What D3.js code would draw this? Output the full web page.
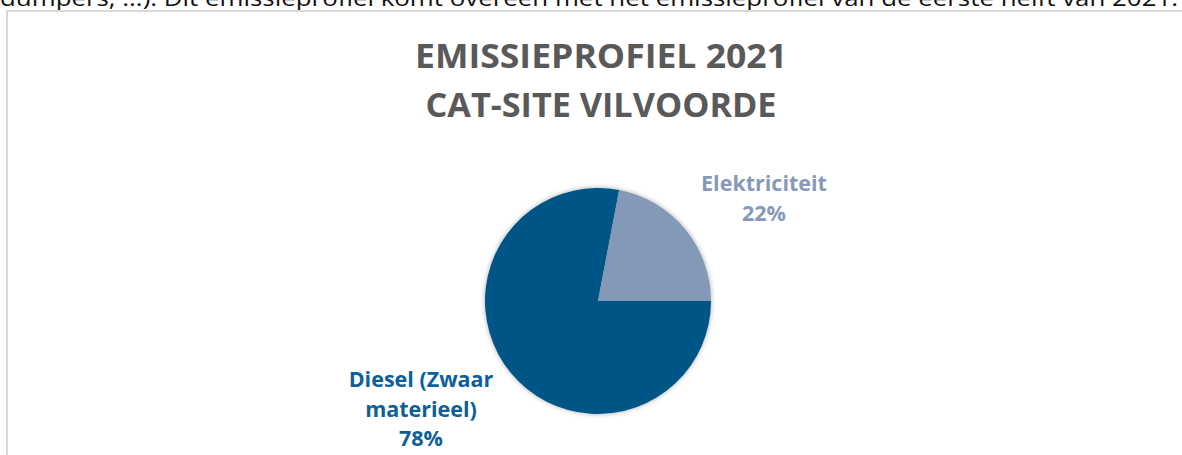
<!DOCTYPE html>
<html>
<head>
<meta charset="utf-8">
<script src="https://cdn.jsdelivr.net/npm/d3@7"></script>
<style>
  html, body { margin: 0; padding: 0; background: #fff; overflow: hidden; }
</style>
</head>
<body>
<svg id="main-vis"></svg>
<script>
// data
const sliceLabels = ["Diesel (Zwaar materieel)", "Elektriciteit"];
const sliceValues = [78, 22];
const sliceColors = ["#005587", "#8399b7"];
const labelColors = ["#0d5f97", "#8799b8"];
const titleLines = ["EMISSIEPROFIEL 2021", "CAT-SITE VILVOORDE"];
const introText = "dumpers, ...). Dit emissieprofiel komt overeen met het emissieprofiel van de eerste helft van 2021.";

const W = 1182, H = 455;
const svg = d3.select("#main-vis").attr("width", W).attr("height", H);

// bit of the document text above the chart, cut off by the top edge
svg.append("text")
    .attr("x", 0)
    .attr("y", 6)
    .attr("font-family", "'Open Sans', sans-serif")
    .attr("font-size", "21px")
    .attr("fill", "#111")
    .attr("textLength", 1178)
    .attr("lengthAdjust", "spacingAndGlyphs")
    .text(introText);

// chart frame (runs past right + bottom edges)
svg.append("rect")
    .attr("x", 7)
    .attr("y", 11)
    .attr("width", W + 20)
    .attr("height", H + 20)
    .attr("fill", "#fff")
    .attr("stroke", "#d9d9d9")
    .attr("stroke-width", 2);

// title
const titleFont = "'Open Sans', sans-serif";
const titleWidths = [372, 351];
svg.selectAll(".title")
    .data(titleLines)
    .enter()
    .append("text")
    .attr("class", "title")
    .attr("x", 601)
    .attr("y", (d, i) => 68 + i * 49)
    .attr("text-anchor", "middle")
    .attr("font-family", titleFont)
    .attr("font-weight", "bold")
    .attr("font-size", "34px")
    .attr("fill", "#595959")
    .attr("textLength", (d, i) => titleWidths[i])
    .attr("lengthAdjust", "spacingAndGlyphs")
    .text(d => d);

// soft shadow around the pie
const defs = svg.append("defs");
const shadow = defs.append("filter")
    .attr("id", "pie-shadow")
    .attr("x", "-20%").attr("y", "-20%")
    .attr("width", "140%").attr("height", "140%");
shadow.append("feGaussianBlur").attr("in", "SourceAlpha").attr("stdDeviation", 2.5).attr("result", "blur");
shadow.append("feOffset").attr("in", "blur").attr("dx", 0).attr("dy", 0).attr("result", "off");
shadow.append("feComponentTransfer").attr("in", "off").attr("result", "soft")
    .append("feFuncA").attr("type", "linear").attr("slope", 0.35);
const merge = shadow.append("feMerge");
merge.append("feMergeNode").attr("in", "soft");
merge.append("feMergeNode").attr("in", "SourceGraphic");

const cx = 598, cy = 301, radius = 113;

// excel-style: first slice rotated to 3 o'clock, clockwise
const pie = d3.pie()
    .sort(null)
    .startAngle(Math.PI / 2)
    .endAngle(Math.PI / 2 + 2 * Math.PI)
    .value(d => d);

const arc = d3.arc().innerRadius(0).outerRadius(radius);

const pieG = svg.append("g")
    .attr("transform", `translate(${cx},${cy})`)
    .attr("filter", "url(#pie-shadow)");

pieG.selectAll("path")
    .data(pie(sliceValues))
    .enter()
    .append("path")
    .attr("d", arc)
    .attr("fill", (d, i) => sliceColors[i]);

// data labels (outside end, like excel)
const labelSpots = [
    { x: 421, y: 387, lines: ["Diesel (Zwaar", "materieel)"] },
    { x: 764, y: 191, lines: ["Elektriciteit"] }
];
const fmtPct = v => Math.round(v / d3.sum(sliceValues) * 100) + "%";

labelSpots.forEach((spot, i) => {
    const t = svg.append("text")
        .attr("text-anchor", "middle")
        .attr("font-family", "'Open Sans', sans-serif")
        .attr("font-weight", "bold")
        .attr("font-size", "21.5px")
        .attr("fill", labelColors[i]);
    spot.lines.concat([fmtPct(sliceValues[i])]).forEach((ln, j) => {
        t.append("tspan")
            .attr("x", spot.x)
            .attr("y", spot.y + j * 29.5)
            .text(ln);
    });
});
</script>
</body>
</html>
